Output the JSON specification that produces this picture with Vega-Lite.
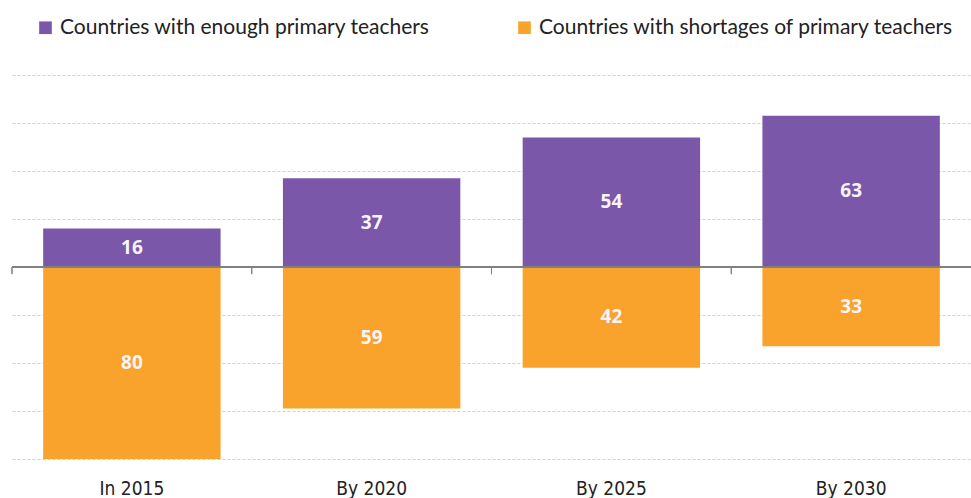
{
  "$schema": "https://vega.github.io/schema/vega-lite/v6.json",
  "autosize": {"type": "none"},
  "width": 959,
  "height": 384,
  "padding": {"left": 12, "top": 75, "right": 0, "bottom": 39},
  "background": "white",
  "data": {
    "values": [
      {"year": "In 2015", "group": "Countries with enough primary teachers", "value": 16, "n": 16},
      {"year": "In 2015", "group": "Countries with shortages of primary teachers", "value": -80, "n": 80},
      {"year": "By 2020", "group": "Countries with enough primary teachers", "value": 37, "n": 37},
      {"year": "By 2020", "group": "Countries with shortages of primary teachers", "value": -59, "n": 59},
      {"year": "By 2025", "group": "Countries with enough primary teachers", "value": 54, "n": 54},
      {"year": "By 2025", "group": "Countries with shortages of primary teachers", "value": -42, "n": 42},
      {"year": "By 2030", "group": "Countries with enough primary teachers", "value": 63, "n": 63},
      {"year": "By 2030", "group": "Countries with shortages of primary teachers", "value": -33, "n": 33}
    ]
  },
  "config": {
    "view": {"stroke": null},
    "font": "Lato"
  },
  "encoding": {
    "x": {
      "field": "year", "type": "nominal", "sort": null,
      "scale": {"paddingInner": 0.26, "paddingOuter": 0.13},
      "axis": {
        "title": null, "domain": false, "ticks": false, "tickSize": 0, "grid": false,
        "labelAngle": 0, "labelFontSize": 19, "labelFont": "DejaVu Sans Condensed",
        "labelColor": "#222222", "labelPadding": 20
      }
    }
  },
  "layer": [
    {
      "mark": {"type": "bar"},
      "encoding": {
        "y": {
          "field": "value", "type": "quantitative", "stack": null,
          "scale": {"domain": [-80, 80], "nice": false},
          "axis": {
            "title": null, "labels": false, "ticks": false, "domain": false,
            "values": [-80, -60, -40, -20, 0, 20, 40, 60, 80],
            "grid": true, "gridColor": "#d0d0d0", "gridDash": [3, 2], "gridWidth": 1
          }
        },
        "color": {
          "field": "group", "type": "nominal",
          "scale": {
            "domain": ["Countries with enough primary teachers", "Countries with shortages of primary teachers"],
            "range": ["#7B57A9", "#F9A32C"]
          },
          "legend": {
            "title": null, "orient": "none", "direction": "horizontal",
            "legendX": 23, "legendY": -58,
            "symbolType": "square", "symbolSize": 160, "symbolStrokeWidth": 0,
            "labelFontSize": 21, "labelColor": "#222222", "labelOffset": 4,
            "columnPadding": 84, "labelLimit": 600
          }
        }
      }
    },
    {
      "mark": {"type": "rule", "color": "#808080", "strokeWidth": 1},
      "encoding": {
        "y": {"datum": 0, "type": "quantitative"},
        "x": {"value": 0},
        "x2": {"value": 971}
      }
    },
    {
      "mark": {"type": "rule", "color": "#808080", "strokeWidth": 1},
      "encoding": {
        "x": {"field": "year", "type": "nominal", "sort": null, "bandPosition": -0.1757},
        "y": {"datum": 0, "type": "quantitative"},
        "y2": {"datum": -3}
      }
    },
    {
      "transform": [{"calculate": "datum.value / 2", "as": "mid"}],
      "mark": {"type": "text", "color": "#f8f4f8", "fontSize": 19, "fontWeight": "bold", "baseline": "middle", "font": "Open Sans"},
      "encoding": {
        "y": {"field": "mid", "type": "quantitative"},
        "text": {"field": "n", "type": "quantitative"}
      }
    }
  ]
}
